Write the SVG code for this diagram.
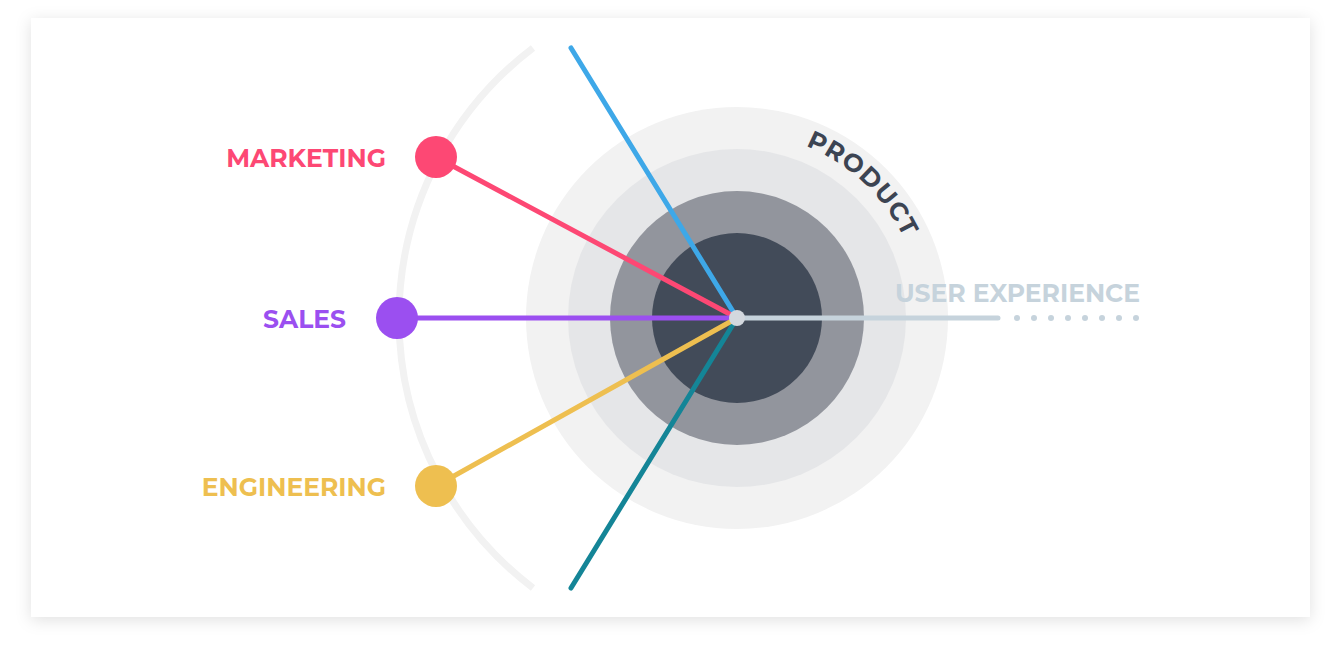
<svg xmlns="http://www.w3.org/2000/svg" width="1341" height="660" viewBox="0 0 1341 660">
<defs>
<filter id="sh" x="-5%" y="-5%" width="110%" height="115%"><feDropShadow dx="0" dy="3" stdDeviation="8" flood-color="#000" flood-opacity="0.12"/></filter>
<path id="arcP" d="M 785 139 A 185 185 0 0 1 922 318" fill="none"/>
</defs>
<style>
.lbl{font-family:"Montserrat","Lato","Liberation Sans",sans-serif;font-weight:700;font-size:25px}
.ln{stroke-width:5;fill:none;stroke-linecap:round}
</style>
<rect x="31" y="18" width="1279" height="599" fill="#fff" filter="url(#sh)"/>
<path d="M 533 48 A 339 339 0 0 0 533 588" fill="none" stroke="#f2f2f2" stroke-width="7"/>
<g id="product">
<circle cx="737" cy="318" r="211" fill="#f2f2f2"/>
<circle cx="737" cy="318" r="169" fill="#e5e6e8"/>
<circle cx="737" cy="318" r="127" fill="#92959d"/>
<circle cx="737" cy="318" r="85" fill="#424b59"/>
<text class="lbl" fill="#3c4452" font-size="24" letter-spacing="1"><textPath href="#arcP" startOffset="9%">PRODUCT</textPath></text>
</g>
<g id="connectors">
<line class="ln" x1="571" y1="48" x2="737" y2="318" stroke="#3ea8e8" stroke-linecap="butt"/>
<line class="ln" x1="571" y1="588" x2="737" y2="318" stroke="#148597" stroke-linecap="butt"/>
<line class="ln" x1="436" y1="157" x2="737" y2="318" stroke="#fd4874"/>
<line class="ln" x1="397" y1="318" x2="737" y2="318" stroke="#9b4ff0"/>
<line class="ln" x1="436" y1="486" x2="737" y2="318" stroke="#eebf50"/>
<line class="ln" x1="737" y1="318" x2="998" y2="318" stroke="#c6d3dc"/>
<g fill="#c6d3dc">
<circle cx="1017" cy="318" r="3"/><circle cx="1034" cy="318" r="3"/><circle cx="1051" cy="318" r="3"/><circle cx="1068" cy="318" r="3"/><circle cx="1085" cy="318" r="3"/><circle cx="1102" cy="318" r="3"/><circle cx="1119" cy="318" r="3"/><circle cx="1136" cy="318" r="3"/>
</g>
<circle cx="737" cy="318" r="8" fill="#d3d8de"/>
</g>
<g id="marketing"><circle cx="436" cy="157" r="21" fill="#fd4874"/><text class="lbl" x="386" y="167" text-anchor="end" fill="#fd4874">MARKETING</text></g>
<g id="sales"><circle cx="397" cy="318" r="21" fill="#9b4ff0"/><text class="lbl" x="346" y="328" text-anchor="end" fill="#9b4ff0">SALES</text></g>
<g id="engineering"><circle cx="436" cy="486" r="21" fill="#eebf50"/><text class="lbl" x="386" y="496" text-anchor="end" fill="#eebf50">ENGINEERING</text></g>
<g id="ux"><text class="lbl" x="1140" y="302" text-anchor="end" fill="#c6d3dc">USER EXPERIENCE</text></g>
</svg>
